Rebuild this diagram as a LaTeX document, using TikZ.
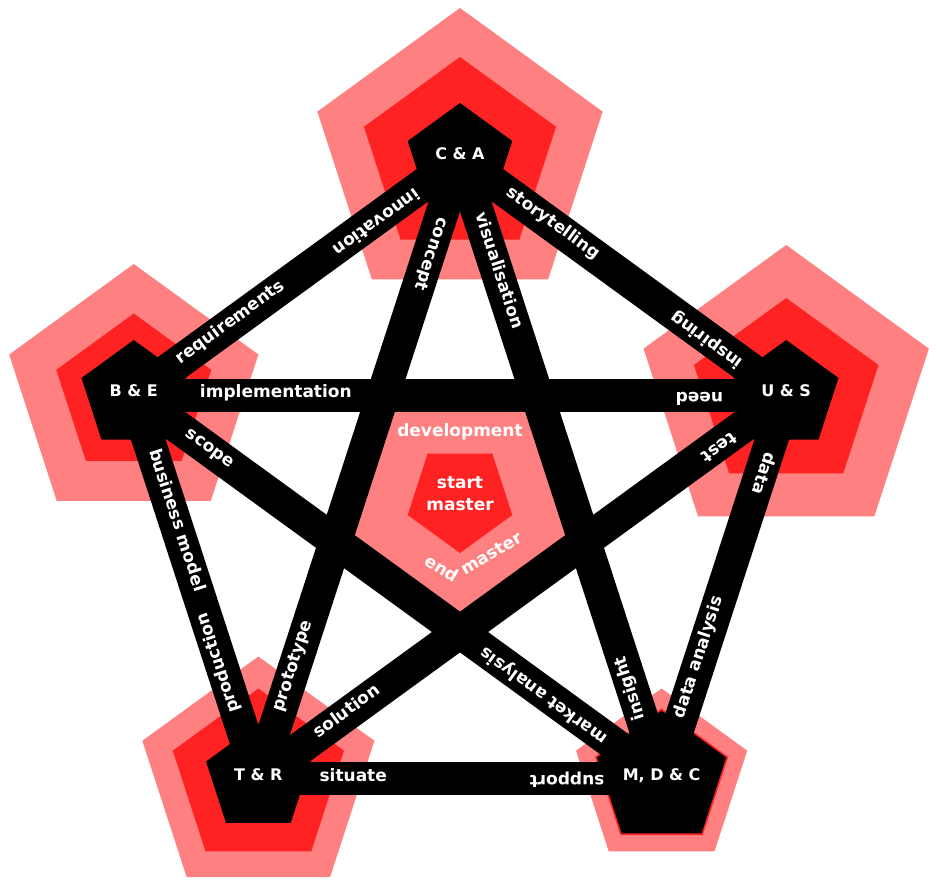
\documentclass[tikz,border=0pt]{standalone}
\usepackage{fontspec}
\setmainfont{DejaVu Sans}
\usetikzlibrary{shapes.geometric,calc,backgrounds}
\definecolor{halo}{RGB}{255,128,128}
\definecolor{core}{RGB}{255,34,34}

\begin{document}
\begin{tikzpicture}[
  x=1pt, y=1pt,
  pent/.style={regular polygon, regular polygon sides=5, inner sep=0pt},
  hub/.style={pent, fill=black, minimum size=110pt, text=white, text depth=8pt,
    font=\fontsize{16}{16}\selectfont\bfseries},
  outer/.style={pent, fill=halo},
  inner/.style={pent, fill=core},
  band/.style={line width=33pt},
  tag/.style={text=white, inner sep=0pt, text height=1ex, text depth=0pt,
    font=\fontsize{17}{17}\selectfont\bfseries}
]
\useasboundingbox (-460,-383) rectangle (477,501);

% the five fields
\node[hub] (ca)  at (90:343)  {C \& A};
\node[hub] (be)  at (162:343) {B \& E};
\node[hub] (us)  at (18:343)  {U \& S};
\node[hub] (tr)  at (234:343) {T \& R};
\node[hub] (mdc) at (306:343) {M, D \& C};

\begin{scope}[on background layer]
  \foreach \n/\s in {ca/300, be/262, us/300, tr/244, mdc/180}
    \node[outer, minimum size=\s pt] (\n-out) at (\n) {};
  \foreach \n/\s in {ca/202, be/163, us/194, tr/180, mdc/140}
    \node[inner, minimum size=\s pt] (\n-in) at (\n) {};
  \node[outer, minimum size=228pt, shape border rotate=180] (mid-out) at (0,0) {};
  \node[inner, minimum size=110pt, shape border rotate=180] (mid-in) at (0,3) {};
  \foreach \a/\b in {ca/be, ca/tr, ca/mdc, ca/us, be/us, be/tr, be/mdc, us/tr, us/mdc, tr/mdc}
    \draw[band] (\a.center) -- (\b.center);
\end{scope}

% words along the bands
\foreach \a/\b/\d/\txt in {ca/be/54/innovation, be/ca/56/requirements,
    ca/tr/62/concept, tr/ca/70/prototype, ca/mdc/58/visualisation, mdc/ca/62/insight,
    ca/us/58/storytelling, us/ca/54/inspiring, be/us/66/implementation, us/be/63/need,
    be/tr/58/business model, tr/be/70/production, be/mdc/65/scope, mdc/be/68/market analysis,
    us/tr/66/test, tr/us/72/solution, us/mdc/60/data, mdc/us/63/data analysis,
    tr/mdc/61/situate, mdc/tr/57/support}
  \path (\a.center) -- ($(\a.center)!\d pt!(\b.center)$)
    node[tag, sloped, allow upside down, pos=1, anchor=west] {\txt};

% centre
\node[tag] (dev) at (0,67.5) {development};
\node[tag] (start) at (0,15.5) {start};
\node[tag] (mst) at (0,-7) {master};
\node[tag, rotate=-31] (end) at (-20,-70) {end};
\node[tag, rotate=31] (endm) at (33,-55) {master};
\end{tikzpicture}
\end{document}
